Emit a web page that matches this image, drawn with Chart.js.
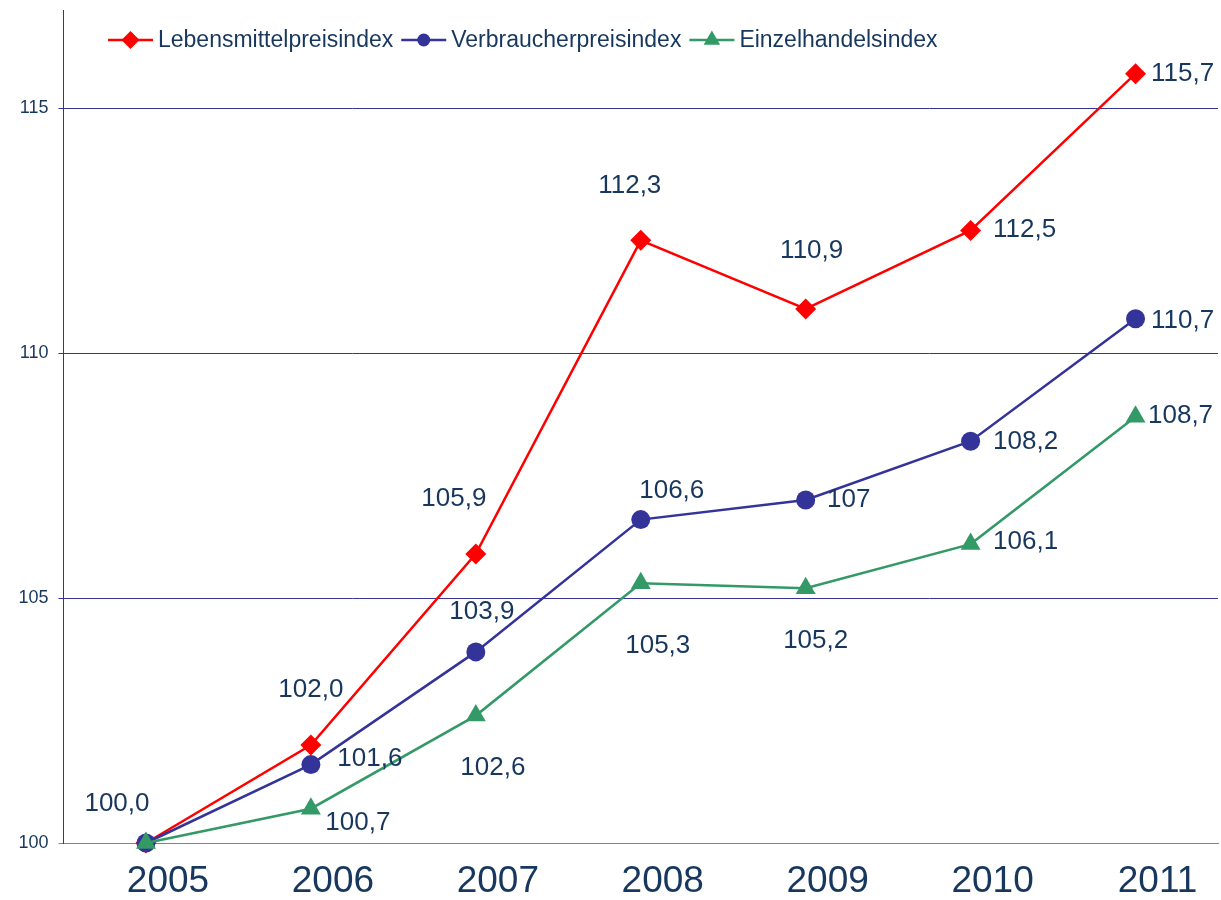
<!DOCTYPE html>
<html lang="de">
<head>
<meta charset="utf-8">
<title>Preisindizes 2005–2011</title>
<script src="https://cdn.jsdelivr.net/npm/chart.js@4/dist/chart.umd.min.js"></script>
<style>
  html, body { margin: 0; padding: 0; background: #fff; }
  #wrap { width: 1221px; height: 900px; position: relative; }
</style>
</head>
<body>
<div id="wrap"><canvas id="indexChart"></canvas></div>
<script>
// Data (2005 = 100)
const years = ['2005', '2006', '2007', '2008', '2009', '2010', '2011'];
const foodIndex = [100.0, 102.0, 105.9, 112.3, 110.9, 112.5, 115.7];
const consumerIndex = [100.0, 101.6, 103.9, 106.6, 107.0, 108.2, 110.7];
const retailIndex = [100.0, 100.7, 102.6, 105.3, 105.2, 106.1, 108.7];

const foodLabels = ['100,0', '102,0', '105,9', '112,3', '110,9', '112,5', '115,7'];
const consumerLabels = [null, '101,6', '103,9', '106,6', '107', '108,2', '110,7'];
const retailLabels = [null, '100,7', '102,6', '105,3', '105,2', '106,1', '108,7'];

const yTicks = [100, 105, 110, 115];

const NAVY_TEXT = '#17375E';
const FONT = "'Liberation Sans', Arial, sans-serif";

// where each value label sits, relative to its point (label centre)
const labelShift = [
    [[-29, -39], [0, -55], [-22, -55], [-11, -54], [6, -58], [54, -1], [47, 0]],
    [null, [59, -6], [6, -40], [31, -29], [43, 0], [55, 1], [47, 2]],
    [null, [47, 14], [17, 52], [17, 63], [10, 53], [55, -2], [45, -1]]
];

function drawMarker(ctx, style, x, y, r) {
    ctx.beginPath();
    if (style === 'rectRot') {
        ctx.moveTo(x - r, y);
        ctx.lineTo(x, y - r);
        ctx.lineTo(x + r, y);
        ctx.lineTo(x, y + r);
    } else if (style === 'triangle') {
        ctx.moveTo(x, y - r);
        ctx.lineTo(x + r * 0.866, y + r * 0.5);
        ctx.lineTo(x - r * 0.866, y + r * 0.5);
    } else {
        ctx.arc(x, y, r, 0, Math.PI * 2);
    }
    ctx.closePath();
    ctx.fill();
}

// value labels next to the points
const valueLabels = {
    id: 'valueLabels',
    afterDatasetsDraw(chart) {
        const ctx = chart.ctx;
        ctx.save();
        ctx.font = '26px ' + FONT;
        ctx.fillStyle = NAVY_TEXT;
        ctx.textAlign = 'center';
        ctx.textBaseline = 'middle';
        chart.data.datasets.forEach((ds, i) => {
            const meta = chart.getDatasetMeta(i);
            meta.data.forEach((pt, j) => {
                const text = ds.valueText[j];
                const shift = labelShift[i][j];
                if (!text || !shift) return;
                ctx.fillText(text, pt.x + shift[0], pt.y + shift[1]);
            });
        });
        ctx.restore();
    }
};

// legend drawn inside the plot, line + marker like the original
const lineLegend = {
    id: 'lineLegend',
    afterDraw(chart) {
        const ctx = chart.ctx;
        let x = 108;
        const y = 40;
        ctx.save();
        ctx.font = '23px ' + FONT;
        ctx.textBaseline = 'middle';
        ctx.textAlign = 'left';
        chart.data.datasets.forEach(ds => {
            ctx.strokeStyle = ds.borderColor;
            ctx.lineWidth = 2.5;
            ctx.beginPath();
            ctx.moveTo(x, y);
            ctx.lineTo(x + 45, y);
            ctx.stroke();
            ctx.fillStyle = ds.borderColor;
            drawMarker(ctx, ds.pointStyle, x + 22.5, y, ds.legendMarker);
            ctx.fillStyle = NAVY_TEXT;
            ctx.fillText(ds.label, x + 50, y + 1);
            x += 50 + ctx.measureText(ds.label).width + 8;
        });
        ctx.restore();
    }
};

new Chart(document.getElementById('indexChart'), {
    type: 'line',
    data: {
        labels: years,
        datasets: [
            {
                label: 'Lebensmittelpreisindex',
                data: foodIndex,
                valueText: foodLabels,
                borderColor: '#FF0000',
                backgroundColor: '#FF0000',
                pointStyle: 'rectRot',
                pointRadius: 10.5,
                legendMarker: 9,
                order: 3
            },
            {
                label: 'Verbraucherpreisindex',
                data: consumerIndex,
                valueText: consumerLabels,
                borderColor: '#333399',
                backgroundColor: '#333399',
                pointStyle: 'circle',
                pointRadius: 9.5,
                legendMarker: 6.5,
                order: 2
            },
            {
                label: 'Einzelhandelsindex',
                data: retailIndex,
                valueText: retailLabels,
                borderColor: '#339966',
                backgroundColor: '#339966',
                pointStyle: 'triangle',
                pointRadius: 11.5,
                legendMarker: 9.5,
                order: 1
            }
        ].map(ds => Object.assign(ds, {
            borderWidth: 2.5,
            tension: 0,
            fill: false,
            clip: false,
            pointBorderWidth: 0,
            pointHoverRadius: ds.pointRadius
        }))
    },
    options: {
        responsive: true,
        maintainAspectRatio: false,
        animation: false,
        layout: { autoPadding: false, padding: { top: 10, left: 18, right: 3, bottom: 0 } },
        plugins: {
            legend: { display: false },
            tooltip: { enabled: false }
        },
        scales: {
            x: {
                offset: true,
                grid: { display: false, drawTicks: false },
                border: { display: true, color: '#7B7BC0', width: 1 },
                ticks: {
                    color: NAVY_TEXT,
                    font: { family: FONT, size: 37, lineHeight: 1 },
                    padding: 20.5,
                    labelOffset: 22,
                    maxRotation: 0,
                    autoSkip: false
                },
                afterFit: scale => {
                    scale.height = 57;
                    scale.paddingLeft = 0;
                    scale.paddingRight = 0;
                }
            },
            y: {
                min: 100,
                max: 117,
                afterBuildTicks: scale => {
                    scale.ticks = yTicks.map(v => ({ value: v }));
                },
                afterFit: scale => {
                    scale.width = 45.5;
                    scale.paddingTop = 0;
                    scale.paddingBottom = 0;
                },
                grid: {
                    color: ctx => (ctx.tick && ctx.tick.value === 100 ? '#7B7BC0' : '#333399'),
                    lineWidth: 1,
                    drawTicks: true,
                    tickLength: 5
                },
                border: { display: true, color: '#333399', width: 1 },
                ticks: {
                    color: NAVY_TEXT,
                    font: { family: FONT, size: 18 },
                    padding: 10
                }
            }
        }
    },
    plugins: [valueLabels, lineLegend]
});
</script>
</body>
</html>
